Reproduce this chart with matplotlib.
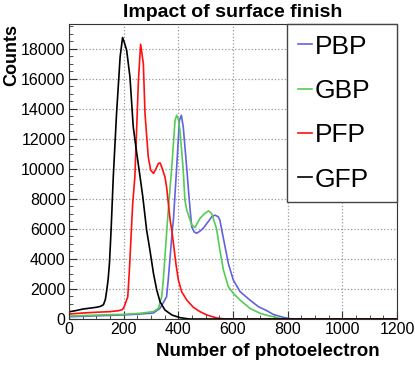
import numpy as np
import matplotlib
matplotlib.use('Agg')
import matplotlib.pyplot as plt
from matplotlib.ticker import MultipleLocator

plt.rcParams['font.family'] = ['Liberation Sans', 'DejaVu Sans']

# data ------------------------------------------------------------------
pbp_x = [0, 50, 100, 150, 200, 260, 309, 333, 357, 363, 372, 378, 382, 394, 404, 411,
         418, 424, 431, 437, 443, 449, 458, 467, 479, 491, 510, 522, 534, 546, 552, 559,
         571, 583, 601, 626, 662, 693, 723, 748, 784, 810, 830, 1200]
pbp_y = [150, 180, 210, 240, 270, 330, 400, 710, 1480, 2600, 4590, 5920, 6590, 10130, 13240, 13570,
         12800, 11500, 10000, 8600, 7300, 6140, 5800, 5710, 5850, 6040, 6500, 6810, 6920, 6810, 6590, 5920,
         4810, 3700, 2600, 1820, 1260, 820, 560, 300, 110, 20, 0, 0]

gbp_x = [0, 50, 100, 150, 200, 260, 309, 327, 339, 345, 351, 357, 363, 376, 388, 394,
         400, 406, 418, 424, 431, 449, 461, 479, 495, 510, 522, 540, 552, 565, 583, 601,
         626, 662, 699, 723, 748, 780, 1200]
gbp_y = [200, 230, 260, 290, 310, 380, 490, 710, 1480, 2600, 4150, 5700, 7200, 10130, 13240, 13570,
         13300, 12580, 9910, 7920, 7250, 6260, 6100, 6700, 7000, 7200, 7030, 6000, 4590, 3260, 2150, 1710,
         1260, 710, 380, 250, 150, 0, 0]

pfp_x = [0, 50, 100, 150, 180, 195, 202, 215, 221, 227, 233, 241, 254, 262, 272, 278,
         290, 299, 309, 318, 327, 333, 339, 351, 357, 370, 376, 382, 391, 400, 412, 431,
         455, 479, 504, 540, 570, 1200]
pfp_y = [330, 400, 450, 490, 550, 620, 820, 1480, 3260, 5480, 7690, 9470, 15900, 18300, 17010, 13690,
         10800, 9910, 9700, 10000, 10360, 10400, 10130, 9470, 8800, 6590, 5920, 5040, 3700, 2600, 1820, 1260,
         780, 490, 270, 70, 0, 0]

gfp_x = [0, 25, 50, 75, 100, 115, 126, 133, 138, 143, 148, 154, 162, 174, 187, 196, 201,
         211, 223, 235, 248, 260, 270, 284, 296, 309, 321, 333, 351, 376, 406, 440, 1200]
gfp_y = [480, 560, 660, 720, 780, 840, 950, 1300, 1900, 2600, 3700, 5920, 9470, 13690, 17450, 18750, 18500,
         17900, 16120, 12800, 11020, 9470, 8140, 5920, 4590, 3040, 1930, 1150, 600, 270, 90, 0, 0]

labels = ['PBP', 'GBP', 'PFP', 'GFP']
colors = ['#6262de', '#55cc55', '#ff1010', '#000000']

# plot ------------------------------------------------------------------
fig = plt.figure(figsize=(4.15, 3.69), dpi=100)
ax = fig.add_axes([69/415, 50/369, 328/415, 295/369])

series = [(pbp_x, pbp_y), (gbp_x, gbp_y), (pfp_x, pfp_y), (gfp_x, gfp_y)]
for (sx, sy), lab, col in zip(series, labels, colors):
    ax.plot(sx, sy, color=col, lw=1.2, label=lab)

ax.set_xlim(0, 1200)
ax.set_ylim(0, 19650)
ax.xaxis.set_major_locator(MultipleLocator(200))
ax.xaxis.set_minor_locator(MultipleLocator(50))
ax.yaxis.set_major_locator(MultipleLocator(2000))
ax.yaxis.set_minor_locator(MultipleLocator(500))
ax.tick_params(which='both', direction='in', labelsize=11.5, pad=2.5, color='#333333')
ax.tick_params(which='major', length=6)
ax.tick_params(which='minor', length=3)
ax.grid(True, which='major', color='#999999', ls=':', lw=0.9)
for s in ax.spines.values():
    s.set_color('#333333')

ax.set_title('Impact of surface finish', fontweight='bold', fontsize=14, pad=5)
ax.set_xlabel('Number of photoelectron', fontweight='bold', fontsize=13.5, loc='right')
ax.xaxis.set_label_coords((380 - 69) / 328, -0.08)
ax.set_ylabel('Counts', fontweight='bold', fontsize=13, loc='top')
ax.yaxis.set_label_coords(-0.15, 1.0)

ax.legend(loc='upper left', bbox_to_anchor=((287 - 69) / 328, 1.0, (397 - 287) / 328, 0),
          mode='expand', borderaxespad=0, fancybox=False, edgecolor='#444444', framealpha=1,
          fontsize=19, handlelength=0.55, handletextpad=0.11, labelspacing=0.77, borderpad=0.4)

plt.savefig('out.png', dpi=100)
